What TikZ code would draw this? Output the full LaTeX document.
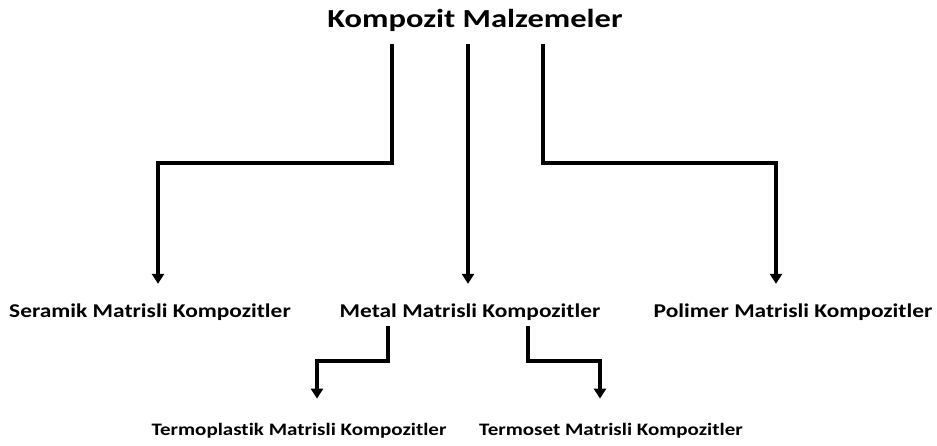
\documentclass[tikz,border=0pt]{standalone}
\usepackage{fontspec}
\usepackage{tikz}
\usetikzlibrary{arrows.meta}
\setmainfont{Carlito}[FakeStretch=1.2, Ligatures=NoCommon]
\newfontfamily\titlefont{Carlito}[FakeStretch=1.25, Ligatures=NoCommon]
\def\bendA{119pt}
\def\bendB{35pt}

\begin{document}
\begin{tikzpicture}[
    lbl/.style={inner sep=0pt, anchor=base, font=\bfseries},
    arr/.style={line width=4pt, -{Triangle[length=10pt,width=12pt]}}
  ]
            \useasboundingbox (0,0) rectangle (937pt,-445pt);

            \node[lbl, font=\titlefont\bfseries\fontsize{26}{30}\selectfont] (K) at (475pt, -27.5pt) {Kompozit Malzemeler};

            \node[lbl, font=\bfseries\fontsize{19.5}{23}\selectfont] (S) at (150pt, -317.7pt) {Seramik Matrisli Kompozitler};
            \node[lbl, font=\bfseries\fontsize{19.5}{23}\selectfont] (M) at (470pt, -317.7pt) {Metal Matrisli Kompozitler};
            \node[lbl, font=\bfseries\fontsize{19.5}{23}\selectfont] (P) at (793pt, -317.7pt) {Polimer Matrisli Kompozitler};

            \node[lbl, font=\bfseries\fontsize{17.5}{21}\selectfont] (T1) at (299pt, -435.7pt) {Termoplastik Matrisli Kompozitler};
            \node[lbl, font=\bfseries\fontsize{17.5}{21}\selectfont] (T2) at (611pt, -435.7pt) {Termoset Matrisli Kompozitler};

            \draw[arr] ([xshift=-83pt, yshift=-12pt]K.south) -- ++(0, -\bendA) -| ([xshift=8pt, yshift=20pt]S.north);
            \draw[arr] ([xshift=-7pt, yshift=-12pt]K.south) -- ([xshift=-2pt, yshift=20pt]M.north);
            \draw[arr] ([xshift=68pt, yshift=-12pt]K.south) -- ++(0, -\bendA) -| ([xshift=-17pt, yshift=20pt]P.north);

            \draw[arr] ([xshift=-82pt, yshift=-5.5pt]M.south) -- ++(0, -\bendB) -| ([xshift=18pt, yshift=24.6pt]T1.north);
            \draw[arr] ([xshift=58pt, yshift=-5.5pt]M.south) -- ++(0, -\bendB) -| ([xshift=-11pt, yshift=24.6pt]T2.north);
        \end{tikzpicture}
\end{document}
